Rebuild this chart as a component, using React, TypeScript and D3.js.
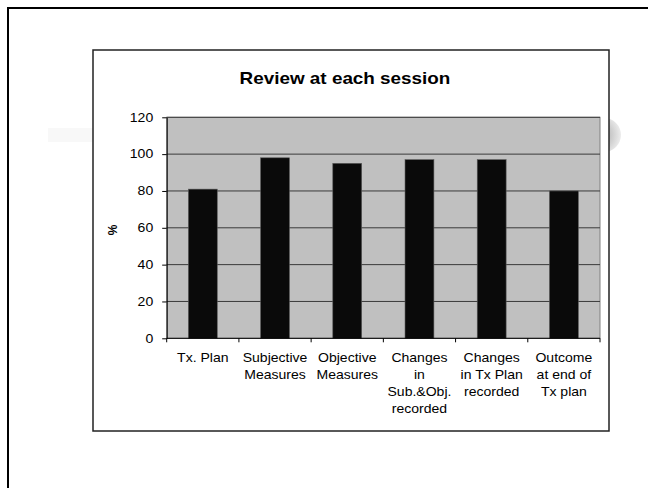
import * as d3 from "d3";
import { useEffect, useRef } from "react";

const categories = [
  "Tx. Plan",
  "Subjective\nMeasures",
  "Objective\nMeasures",
  "Changes\nin\nSub.&Obj.\nrecorded",
  "Changes\nin Tx Plan\nrecorded",
  "Outcome\nat end of\nTx plan",
];
const values = [81, 98, 95, 97, 97, 80];
const yTicks = [0, 20, 40, 60, 80, 100, 120];
const chartTitle = "Review at each session";
const yLabel = "%";

const W = 648;
const H = 488;
const FONT = "'Liberation Sans', Arial, sans-serif";
const SX = 1.17; // text in the reference is stretched horizontally

export default function App() {
  const ref = useRef<SVGSVGElement>(null);

  useEffect(() => {
    if (!ref.current) return;
    const svg = d3.select(ref.current);
    svg.selectAll("*").remove();

    // slide decoration behind the chart
    const defs = svg.append("defs");
    const grad = defs
      .append("radialGradient")
      .attr("id", "knob")
      .attr("cx", "35%")
      .attr("cy", "50%")
      .attr("r", "65%");
    grad.append("stop").attr("offset", "0%").attr("stop-color", "#a0a0a0");
    grad.append("stop").attr("offset", "100%").attr("stop-color", "#ececec");

    svg
      .append("rect")
      .attr("x", 48)
      .attr("y", 128)
      .attr("width", 560)
      .attr("height", 14)
      .attr("fill", "#f8f8f8");
    svg
      .append("circle")
      .attr("cx", 604)
      .attr("cy", 135)
      .attr("r", 17)
      .attr("fill", "url(#knob)");

    // slide frame
    svg
      .append("rect")
      .attr("x", 8)
      .attr("y", 8)
      .attr("width", 700)
      .attr("height", 600)
      .attr("fill", "none")
      .attr("stroke", "#000")
      .attr("stroke-width", 2);

    // chart box
    svg
      .append("rect")
      .attr("x", 93)
      .attr("y", 50)
      .attr("width", 516)
      .attr("height", 381)
      .attr("fill", "#fff")
      .attr("stroke", "#222")
      .attr("stroke-width", 1.5);

    svg
      .append("text")
      .attr("transform", `translate(345,84) scale(1.18,1)`)
      .attr("text-anchor", "middle")
      .attr("font-family", FONT)
      .attr("font-size", 16)
      .attr("font-weight", "bold")
      .attr("fill", "#000")
      .text(chartTitle);

    const left = 166.7;
    const right = 600;
    const top = 117.3;
    const bottom = 338.3;

    const x = d3
      .scaleBand<string>()
      .domain(categories)
      .range([left, right])
      .paddingInner(0.6)
      .paddingOuter(0.3);
    const y = d3.scaleLinear().domain([0, 120]).range([bottom, top]);

    // plot background
    svg
      .append("rect")
      .attr("x", left)
      .attr("y", top)
      .attr("width", right - left)
      .attr("height", bottom - top)
      .attr("fill", "#c0c0c0")
      .attr("stroke", "#808080")
      .attr("stroke-width", 1);

    // gridlines
    svg
      .append("g")
      .selectAll("line")
      .data(yTicks.filter((t) => t > 0))
      .join("line")
      .attr("x1", left)
      .attr("x2", right)
      .attr("y1", (d) => y(d))
      .attr("y2", (d) => y(d))
      .attr("stroke", "#3a3a3a")
      .attr("stroke-width", 1);

    // bars
    svg
      .append("g")
      .selectAll("rect")
      .data(values)
      .join("rect")
      .attr("x", (_, i) => x(categories[i])!)
      .attr("y", (d) => y(d))
      .attr("width", x.bandwidth())
      .attr("height", (d) => bottom - y(d))
      .attr("fill", "#0a0a0a")
      .attr("stroke", "#5a5a5a")
      .attr("stroke-width", 0.6);

    // y axis
    const yAxis = svg
      .append("g")
      .attr("transform", `translate(${left},0)`)
      .call(
        d3
          .axisLeft(y)
          .tickValues(yTicks)
          .tickSize(4.5)
          .tickSizeOuter(0)
          .tickFormat((d) => String(d))
      );
    yAxis.select(".domain").attr("stroke", "#000");
    yAxis.selectAll(".tick line").attr("stroke", "#000");
    yAxis
      .selectAll(".tick text")
      .attr("font-family", FONT)
      .attr("font-size", 12)
      .attr("fill", "#000")
      .attr("x", -13.5 / SX)
      .attr("transform", `scale(${SX},1)`);

    // x axis line and boundary ticks
    svg
      .append("line")
      .attr("x1", left)
      .attr("x2", right)
      .attr("y1", bottom)
      .attr("y2", bottom)
      .attr("stroke", "#000");
    const bounds = d3.range(categories.length + 1).map((i) => left + i * x.step());
    svg
      .append("g")
      .selectAll("line")
      .data(bounds)
      .join("line")
      .attr("x1", (d) => d)
      .attr("x2", (d) => d)
      .attr("y1", bottom)
      .attr("y2", bottom + 4)
      .attr("stroke", "#000");

    // category labels
    const labels = svg
      .append("g")
      .selectAll("text")
      .data(categories)
      .join("text")
      .attr(
        "transform",
        (d) => `translate(${x(d)! + x.bandwidth() / 2},362) scale(${SX},1)`
      )
      .attr("text-anchor", "middle")
      .attr("font-family", FONT)
      .attr("font-size", 12)
      .attr("fill", "#000");
    labels
      .selectAll("tspan")
      .data((d) => d.split("\n"))
      .join("tspan")
      .attr("x", 0)
      .attr("y", (_, i) => i * 17)
      .text((d) => d);

    // y label
    svg
      .append("text")
      .attr("transform", `translate(117,230) rotate(-90)`)
      .attr("text-anchor", "middle")
      .attr("font-family", FONT)
      .attr("font-size", 12)
      .attr("font-weight", "bold")
      .attr("fill", "#000")
      .text(yLabel);
  }, []);

  return (
    <svg
      ref={ref}
      width={W}
      height={H}
      style={{ position: "absolute", left: 0, top: 0, display: "block", background: "#fff" }}
    />
  );
}
